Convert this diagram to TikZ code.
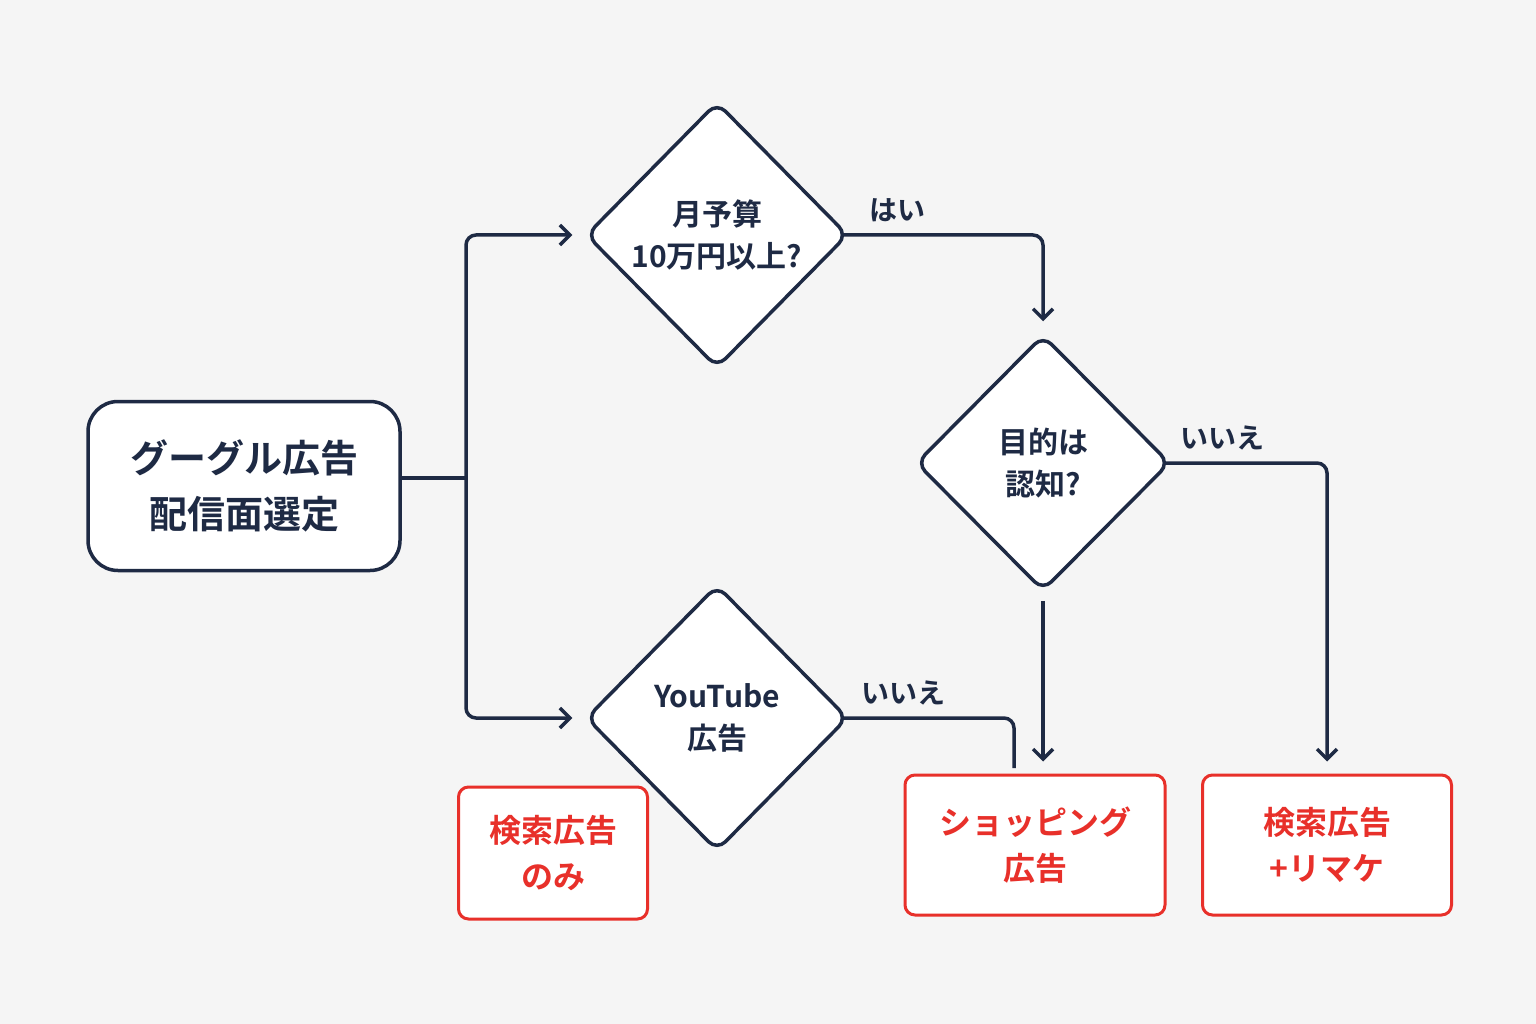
\documentclass[tikz,border=0pt]{standalone}
\usepackage{fontspec}
\setmainfont{Noto Sans CJK JP}[BoldFont={Noto Sans CJK JP Bold}]
\usetikzlibrary{shapes.geometric,arrows.meta}
\definecolor{navy}{HTML}{1E2A44}
\definecolor{rd}{HTML}{E8302A}
\definecolor{bg}{HTML}{F5F5F5}
\begin{document}
\begin{tikzpicture}[x=1pt,y=-1pt,
  ln/.style={draw=navy,line width=3.5pt,rounded corners=10pt},
  arr/.style={ln,-{Straight Barb[length=10pt,width=20pt,line width=3.5pt]}},
  dia/.style={draw=navy,line width=3.5pt,fill=white,diamond,minimum width=262pt,minimum height=266pt,inner sep=0pt,rounded corners=12pt,align=center,text=navy,font=\bfseries\fontsize{30}{42}\selectfont},
  rbox/.style={draw=rd,line width=3pt,fill=white,rounded corners=10pt,align=center,text=rd,font=\bfseries\fontsize{32}{46}\selectfont},
  lab/.style={text=navy,font=\bfseries\fontsize{28}{30}\selectfont}]
\fill[bg] (0,0) rectangle (1536,1024);
\useasboundingbox (0,0) rectangle (1536,1024);
\node[draw=navy,line width=3.5pt,fill=white,rounded corners=30pt,minimum width=312pt,minimum height=169pt,align=center,text=navy,font=\bfseries\fontsize{38}{56}\selectfont] (s) at (244,486) {グーグル広告\\配信面選定};
\node[dia] (d1) at (717,235) {月予算\\10万円以上?};
\node[dia,minimum width=254pt,minimum height=256pt] (d2) at (1043,463) {目的は\\認知?};
\node[dia] (d3) at (717,718) {YouTube\\広告};
\node[rbox,minimum width=189pt,minimum height=132pt] (b1) at (553,853) {検索広告\\のみ};
\node[rbox,minimum width=260pt,minimum height=140pt] (b2) at (1035,845) {ショッピング\\広告};
\node[rbox,minimum width=249pt,minimum height=140pt] (b3) at (1327,845) {検索広告\\+リマケ};
\coordinate (j) at (466,478);
\coordinate (e3) at (1014,768);
\draw[ln] (s.east|-j) -- (j);
\draw[arr] (j) |- ([xshift=-12pt]d1.west);
\draw[arr] (j) |- ([xshift=-12pt]d3.west);
\draw[arr] ([xshift=-6pt]d1.east) -| ([yshift=12pt]d2.north);
\draw[arr] ([xshift=-6pt]d2.east) -| ([yshift=12pt]b3.north);
\draw[arr] ([yshift=-8pt]d2.south) -- ([yshift=12pt]d2.south|-b2.north);
\draw[ln] ([xshift=-6pt]d3.east) -| (e3);
\node[lab] (l1) at (897,210) {はい};
\node[lab] (l2) at (1222,438) {いいえ};
\node[lab] (l3) at (903,693) {いいえ};
\end{tikzpicture}
\end{document}
